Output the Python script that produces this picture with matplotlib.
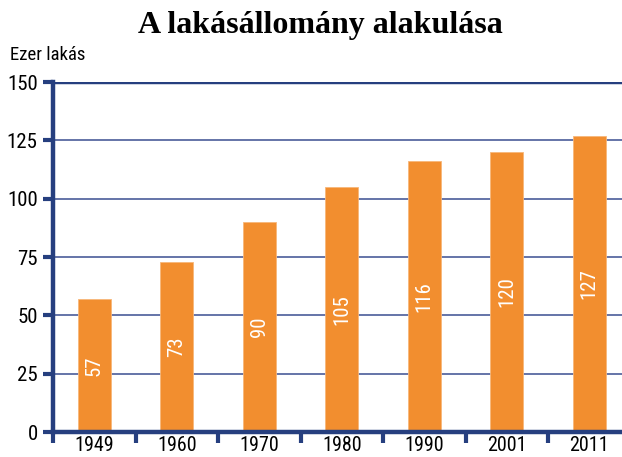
import matplotlib
matplotlib.use("Agg")
import matplotlib.pyplot as plt
from matplotlib import font_manager

years = ["1949", "1960", "1970", "1980", "1990", "2001", "2011"]
values = [57, 73, 90, 105, 116, 120, 127]
yticks = [0, 25, 50, 75, 100, 125, 150]

names = {f.name for f in font_manager.fontManager.ttflist}
cond = "Roboto" if "Roboto" in names else "DejaVu Sans"
for c in ["Roboto Condensed", "Liberation Sans Narrow", "DejaVu Sans Condensed"]:
    if c in names:
        cond = c
        break

navy = "#263F7F"
grid = "#4A5C9A"
orange = "#F28E2F"

W, H = 622, 457
fig = plt.figure(figsize=(W / 100, H / 100), dpi=100)
left, right, top, bottom = 53, 630.5, 82, 432
ax = fig.add_axes([left / W, 1 - bottom / H, (right - left) / W, (bottom - top) / H])

x = list(range(len(years)))
ax.bar(x, values, width=0.4, color=orange, edgecolor="#F7B77A", linewidth=0.6, zorder=3)
for xi, v in zip(x, values):
    ax.text(xi, v / 2, str(v), rotation=90, color="white", ha="center", va="center",
            fontsize=15, family=cond, zorder=4)

ax.set_xlim(-0.5, len(years) - 0.5)
ax.set_ylim(0, 150)
ax.set_yticks(yticks)
ax.set_yticklabels([str(t) for t in yticks], family=cond, fontsize=15)
for t in yticks[1:-1]:
    ax.axhline(t, color=grid, linewidth=1.2, zorder=1)
ax.axhline(150, color=navy, linewidth=3.2, zorder=2)

ax.set_xticks(x)
ax.set_xticklabels(years, family=cond, fontsize=14.5)
ax.tick_params(axis="x", length=0, pad=3)
ax.set_xticks([i - 0.5 for i in range(len(years) + 1)], minor=True)
ax.tick_params(axis="x", which="minor", direction="out", length=8, width=3, color=navy)
ax.tick_params(axis="y", direction="out", length=7, width=3, color=navy, pad=4)

for s in ["top", "right"]:
    ax.spines[s].set_visible(False)
for s in ["left", "bottom"]:
    ax.spines[s].set_color(navy)
    ax.spines[s].set_linewidth(3.2)
    ax.spines[s].set_zorder(5)

fig.text(320 / W, 1 - 25 / H, "A lakásállomány alakulása", ha="center", va="center",
         fontsize=23, fontweight="bold", family="Liberation Serif")
fig.text(10 / W, 1 - 55 / H, "Ezer lakás", ha="left", va="center", fontsize=13.5, family=cond)

fig.savefig("out.png", dpi=100)
